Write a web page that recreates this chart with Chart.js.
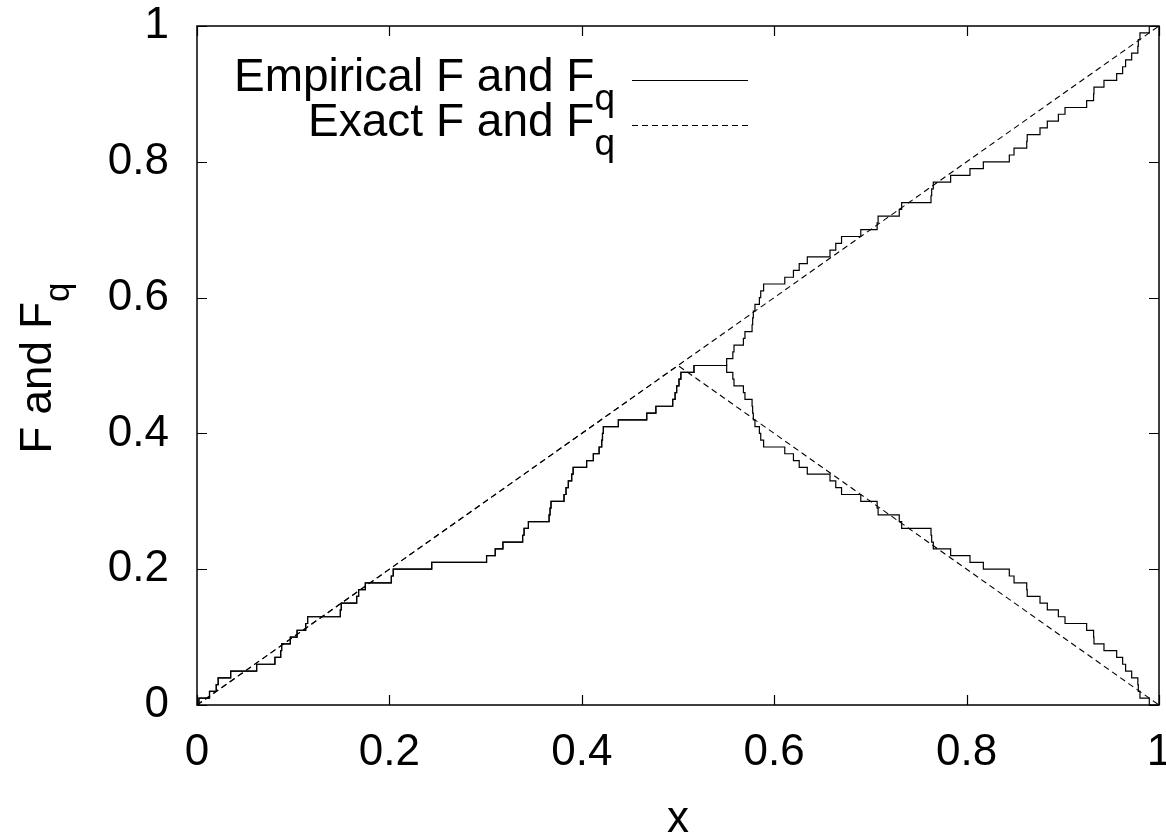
<!DOCTYPE html>
<html>
<head>
<meta charset="utf-8">
<script src="https://cdn.jsdelivr.net/npm/chart.js@4/dist/chart.umd.min.js"></script>
<style>
  html, body { margin: 0; padding: 0; background: #fff; }
  #wrap { width: 1166px; height: 837px; }
</style>
</head>
<body>
<div id="wrap"><canvas id="c" width="1166" height="837"></canvas></div>
<script>
// ---- data ----
// x positions of the empirical step function (start, 100 jumps, end)
const stepX = [0,
  0.002, 0.013, 0.020, 0.022, 0.035, 0.062, 0.081, 0.087, 0.088, 0.097,
  0.104, 0.113, 0.115, 0.149, 0.150, 0.166, 0.168, 0.175, 0.202, 0.204,
  0.244, 0.301, 0.310, 0.318, 0.3385, 0.340, 0.3445, 0.366, 0.367, 0.368,
  0.3815, 0.3836, 0.386, 0.3895, 0.391, 0.405, 0.412, 0.418, 0.4207, 0.4215,
  0.4224, 0.438, 0.4675, 0.477, 0.4945, 0.497, 0.4986, 0.501, 0.503, 0.5166,
  0.5506, 0.557, 0.5582, 0.568, 0.5696, 0.5770, 0.5776, 0.5783, 0.580, 0.5846,
  0.586, 0.589, 0.611, 0.620, 0.626, 0.6344, 0.658, 0.664, 0.670, 0.690,
  0.707, 0.708, 0.730, 0.7325, 0.7630, 0.7637, 0.7654, 0.7834, 0.8035, 0.8174,
  0.8444, 0.8493, 0.8625, 0.863, 0.8763, 0.8839, 0.8954, 0.9023, 0.9248, 0.9320,
  0.9324, 0.9428, 0.956, 0.9622, 0.9653, 0.9716, 0.9780, 0.9785, 0.9802, 0.9899,
  1];
// empirical F at each step point
const empiricalF = [0,
  0.01, 0.02, 0.03, 0.04, 0.05, 0.06, 0.07, 0.08, 0.09, 0.10,
  0.11, 0.12, 0.13, 0.14, 0.15, 0.16, 0.17, 0.18, 0.19, 0.20,
  0.21, 0.22, 0.23, 0.24, 0.25, 0.26, 0.27, 0.28, 0.29, 0.30,
  0.31, 0.32, 0.33, 0.34, 0.35, 0.36, 0.37, 0.38, 0.39, 0.40,
  0.41, 0.42, 0.43, 0.44, 0.45, 0.46, 0.47, 0.48, 0.49, 0.50,
  0.51, 0.52, 0.53, 0.54, 0.55, 0.56, 0.57, 0.58, 0.59, 0.60,
  0.61, 0.62, 0.63, 0.64, 0.65, 0.66, 0.67, 0.68, 0.69, 0.70,
  0.71, 0.72, 0.73, 0.74, 0.75, 0.76, 0.77, 0.78, 0.79, 0.80,
  0.81, 0.82, 0.83, 0.84, 0.85, 0.86, 0.87, 0.88, 0.89, 0.90,
  0.91, 0.92, 0.93, 0.94, 0.95, 0.96, 0.97, 0.98, 0.99, 1.00,
  1.00];
// empirical F_q at each step point
const empiricalFq = [0,
  0.01, 0.02, 0.03, 0.04, 0.05, 0.06, 0.07, 0.08, 0.09, 0.10,
  0.11, 0.12, 0.13, 0.14, 0.15, 0.16, 0.17, 0.18, 0.19, 0.20,
  0.21, 0.22, 0.23, 0.24, 0.25, 0.26, 0.27, 0.28, 0.29, 0.30,
  0.31, 0.32, 0.33, 0.34, 0.35, 0.36, 0.37, 0.38, 0.39, 0.40,
  0.41, 0.42, 0.43, 0.44, 0.45, 0.46, 0.47, 0.48, 0.49, 0.50,
  0.49, 0.48, 0.47, 0.46, 0.45, 0.44, 0.43, 0.42, 0.41, 0.40,
  0.39, 0.38, 0.37, 0.36, 0.35, 0.34, 0.33, 0.32, 0.31, 0.30,
  0.29, 0.28, 0.27, 0.26, 0.25, 0.24, 0.23, 0.22, 0.21, 0.20,
  0.19, 0.18, 0.17, 0.16, 0.15, 0.14, 0.13, 0.12, 0.11, 0.10,
  0.09, 0.08, 0.07, 0.06, 0.05, 0.04, 0.03, 0.02, 0.01, 0.00,
  0.00];
// exact curves
const exactFX = [0, 1];
const exactF = [0, 1];
const exactFqX = [0, 0.5, 1];
const exactFq = [0, 0.5, 0];
// axis ticks
const xTicks = [0, 0.2, 0.4, 0.6, 0.8, 1];
const yTicks = [0, 0.2, 0.4, 0.6, 0.8, 1];
// texts
const legendTexts = [["Empirical F and F", "q"], ["Exact F and F", "q"]];
const yTitle = ["F and F", "q"];
const xTitle = "x";

// ---- chart ----
const FONT = "'Liberation Sans', Arial, Helvetica, sans-serif";
const pts = (xs, ys) => xs.map((x, i) => ({ x: x, y: ys[i] }));
const fmt = v => String(Math.round(v * 10) / 10);

function drawSub(ctx, main, sub, x, y, align, size, shift) {
  const subSize = Math.round(size * 0.8);
  ctx.font = size + "px " + FONT;
  const wm = ctx.measureText(main).width;
  ctx.font = subSize + "px " + FONT;
  const ws = ctx.measureText(sub).width;
  const total = wm + ws;
  let x0 = x;
  if (align === "right") x0 = x - total;
  else if (align === "center") x0 = x - total / 2;
  ctx.textAlign = "left";
  ctx.textBaseline = "alphabetic";
  ctx.font = size + "px " + FONT;
  ctx.fillText(main, x0, y);
  ctx.font = subSize + "px " + FONT;
  ctx.fillText(sub, x0 + wm, y + shift);
}

const decor = {
  id: "decor",
  afterDraw(chart) {
    const ctx = chart.ctx;
    const a = chart.chartArea;
    const xs = chart.scales.x, ys = chart.scales.y;
    ctx.save();
    ctx.strokeStyle = "#000";
    ctx.fillStyle = "#000";
    // frame
    ctx.lineWidth = 1.5;
    ctx.strokeRect(a.left, a.top, a.right - a.left, a.bottom - a.top);
    // inward ticks, mirrored
    ctx.lineWidth = 1.2;
    const TL = 10;
    ctx.beginPath();
    xTicks.forEach(v => {
      const p = Math.round(xs.getPixelForValue(v)) + 0.5;
      ctx.moveTo(p, a.bottom); ctx.lineTo(p, a.bottom - TL);
      ctx.moveTo(p, a.top); ctx.lineTo(p, a.top + TL);
    });
    yTicks.forEach(v => {
      const p = Math.round(ys.getPixelForValue(v)) + 0.5;
      ctx.moveTo(a.left, p); ctx.lineTo(a.left + TL, p);
      ctx.moveTo(a.right, p); ctx.lineTo(a.right - TL, p);
    });
    ctx.stroke();
    // legend
    const rows = [
      { y: 80, dash: [], base: 91 },
      { y: 125, dash: [6, 4], base: 136 }
    ];
    rows.forEach((r, i) => {
      drawSub(ctx, legendTexts[i][0], legendTexts[i][1], 615, r.base, "right", 46, 19);
      ctx.beginPath();
      ctx.setLineDash(r.dash);
      ctx.lineWidth = 1.2;
      ctx.moveTo(632, r.y + 0.5);
      ctx.lineTo(748, r.y + 0.5);
      ctx.stroke();
      ctx.setLineDash([]);
    });
    // y title (rotated)
    ctx.save();
    ctx.translate(51, 368);
    ctx.rotate(-Math.PI / 2);
    drawSub(ctx, yTitle[0], yTitle[1], 0, 0, "center", 44, 18);
    ctx.restore();
    // x title
    ctx.font = "44px " + FONT;
    ctx.textAlign = "center";
    ctx.textBaseline = "alphabetic";
    ctx.fillText(xTitle, (a.left + a.right) / 2, 832);
    ctx.restore();
  }
};

new Chart(document.getElementById("c"), {
  type: "line",
  data: {
    datasets: [
      { label: "Empirical F", data: pts(stepX, empiricalF), stepped: "before",
        borderColor: "#000", borderWidth: 1.2, pointRadius: 0, fill: false },
      { label: "Empirical F_q", data: pts(stepX, empiricalFq), stepped: "before",
        borderColor: "#000", borderWidth: 1.2, pointRadius: 0, fill: false },
      { label: "Exact F", data: pts(exactFX, exactF),
        borderColor: "#000", borderWidth: 1.1, borderDash: [6, 4], pointRadius: 0, fill: false },
      { label: "Exact F_q", data: pts(exactFqX, exactFq),
        borderColor: "#000", borderWidth: 1.1, borderDash: [6, 4], pointRadius: 0, fill: false }
    ]
  },
  options: {
    responsive: false,
    devicePixelRatio: 1,
    animation: false,
    layout: { padding: { left: 0, right: 7, top: 26, bottom: 0 } },
    plugins: { legend: { display: false }, tooltip: { enabled: false } },
    scales: {
      x: {
        type: "linear", min: 0, max: 1,
        grid: { display: false, drawTicks: false }, border: { display: false },
        ticks: { stepSize: 0.2, color: "#000", padding: 21, maxRotation: 0,
                 font: { family: FONT, size: 44 }, callback: fmt },
        afterFit(s) { s.height = 132; s.paddingLeft = 0; s.paddingRight = 0; }
      },
      y: {
        type: "linear", min: 0, max: 1,
        grid: { display: false, drawTicks: false }, border: { display: false },
        ticks: { stepSize: 0.2, color: "#000", padding: 28,
                 font: { family: FONT, size: 44 }, callback: fmt },
        afterFit(s) { s.width = 197; s.paddingTop = 0; s.paddingBottom = 0; }
      }
    }
  },
  plugins: [decor]
});
</script>
</body>
</html>
